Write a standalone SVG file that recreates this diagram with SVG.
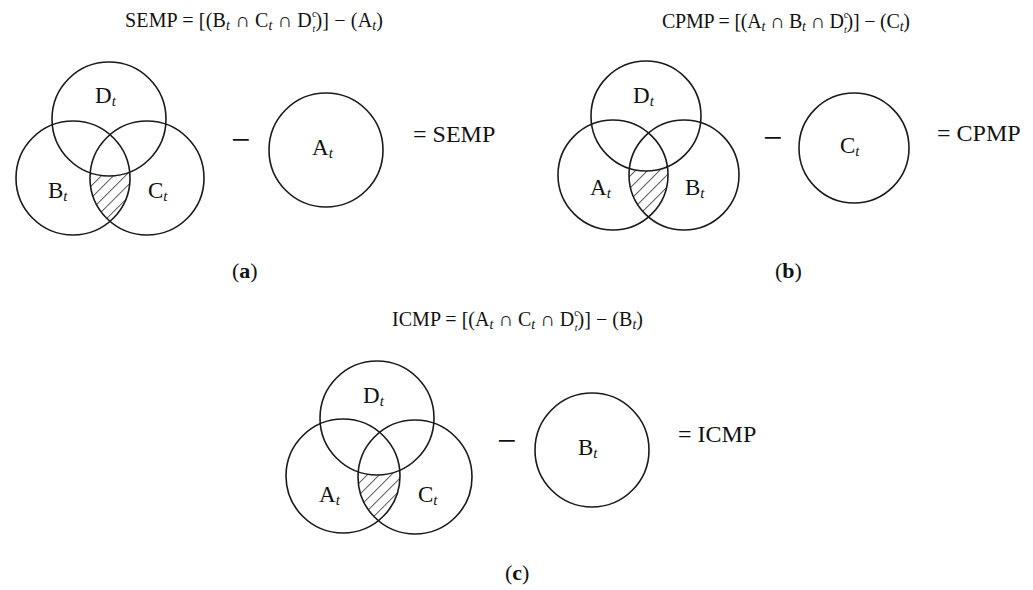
<svg xmlns="http://www.w3.org/2000/svg" width="1033" height="590" viewBox="0 0 1033 590">
<style>
.c{fill:none;stroke:#1a1a1a;stroke-width:1.6}
.lbl{font-family:"Liberation Serif",serif;font-size:23px;fill:#111}
.op{font-family:"Liberation Serif",serif;font-size:24px;fill:#111}
.mn{font-family:"Liberation Serif",serif;font-size:34px;fill:#111}
.f{font-family:"Liberation Serif",serif;font-size:20px;fill:#111}
.cap{font-family:"Liberation Serif",serif;font-size:22px;fill:#111}
.s{font-style:italic;font-size:15px}
.fs{font-style:italic;font-size:14px}
.fx{font-size:10px}
</style>
<defs>
<pattern id="hatch" patternUnits="userSpaceOnUse" width="8.5" height="8.5" patternTransform="rotate(45)">
<line x1="0" y1="0" x2="0" y2="8.5" stroke="#1a1a1a" stroke-width="1.4"/>
</pattern>
<clipPath id="aB"><circle cx="73" cy="178" r="57"/></clipPath>
<clipPath id="aC"><circle cx="147" cy="178" r="57"/></clipPath>
<mask id="aD"><rect x="0" y="0" width="1033" height="590" fill="#fff"/><circle cx="109" cy="119" r="57" fill="#000"/></mask>
<clipPath id="bA"><circle cx="613" cy="175" r="55"/></clipPath>
<clipPath id="bB"><circle cx="684" cy="175" r="55"/></clipPath>
<mask id="bD"><rect x="0" y="0" width="1033" height="590" fill="#fff"/><circle cx="646" cy="116" r="55" fill="#000"/></mask>
<clipPath id="cA"><circle cx="343" cy="476" r="57"/></clipPath>
<clipPath id="cC"><circle cx="415" cy="477" r="57"/></clipPath>
<mask id="cD"><rect x="0" y="0" width="1033" height="590" fill="#fff"/><circle cx="377" cy="418" r="57" fill="#000"/></mask>
</defs>
<rect width="1033" height="590" fill="#fff"/>

<!-- Panel (a) -->
<g id="panel-a">
<text id="formula-a" class="f" x="125" y="27" textLength="258" lengthAdjust="spacing">SEMP = [(B<tspan class="fs" dy="3">t</tspan><tspan dy="-3"> ∩ C</tspan><tspan class="fs" dy="3">t</tspan><tspan dy="-3"> ∩ D</tspan><tspan class="fx" dy="-10">c</tspan><tspan class="fx" font-style="italic" dx="-4" dy="15">t</tspan><tspan dy="-5">)] − (A</tspan><tspan class="fs" dy="3">t</tspan><tspan dy="-3">)</tspan></text>
<g clip-path="url(#aB)"><g clip-path="url(#aC)"><rect x="60" y="150" width="110" height="100" fill="url(#hatch)" mask="url(#aD)"/></g></g>
<g id="a-D"><circle class="c" cx="109" cy="119" r="57"/><text class="lbl" x="95" y="103">D<tspan class="s" dy="3">t</tspan></text></g>
<g id="a-B"><circle class="c" cx="73" cy="178" r="57"/><text class="lbl" x="48" y="198">B<tspan class="s" dy="3">t</tspan></text></g>
<g id="a-C"><circle class="c" cx="147" cy="178" r="57"/><text class="lbl" x="148" y="198">C<tspan class="s" dy="3">t</tspan></text></g>
<text class="mn" x="231" y="151">−</text>
<g id="a-A"><circle class="c" cx="326" cy="150" r="57"/><text class="lbl" x="312" y="155">A<tspan class="s" dy="3">t</tspan></text></g>
<text class="op" x="413" y="142">= SEMP</text>
<text id="cap-a" class="cap" x="232" y="278">(<tspan font-weight="bold">a</tspan>)</text>
</g>

<!-- Panel (b) -->
<g id="panel-b">
<text id="formula-b" class="f" x="662" y="28" textLength="248" lengthAdjust="spacing">CPMP = [(A<tspan class="fs" dy="3">t</tspan><tspan dy="-3"> ∩ B</tspan><tspan class="fs" dy="3">t</tspan><tspan dy="-3"> ∩ D</tspan><tspan class="fx" dy="-10">c</tspan><tspan class="fx" font-style="italic" dx="-4" dy="15">t</tspan><tspan dy="-5">)] − (C</tspan><tspan class="fs" dy="3">t</tspan><tspan dy="-3">)</tspan></text>
<g clip-path="url(#bA)"><g clip-path="url(#bB)"><rect x="600" y="140" width="110" height="100" fill="url(#hatch)" mask="url(#bD)"/></g></g>
<g id="b-D"><circle class="c" cx="646" cy="116" r="55"/><text class="lbl" font-size="22" x="633" y="103">D<tspan class="s" dy="3">t</tspan></text></g>
<g id="b-A"><circle class="c" cx="613" cy="175" r="55"/><text class="lbl" font-size="22" x="590" y="195">A<tspan class="s" dy="3">t</tspan></text></g>
<g id="b-B"><circle class="c" cx="684" cy="175" r="55"/><text class="lbl" font-size="22" x="685" y="195">B<tspan class="s" dy="3">t</tspan></text></g>
<text class="mn" x="763" y="149">−</text>
<g id="b-C"><circle class="c" cx="854" cy="148" r="55"/><text class="lbl" font-size="22" x="840" y="153">C<tspan class="s" dy="3">t</tspan></text></g>
<text class="op" font-size="22" x="937" y="141">= CPMP</text>
<text id="cap-b" class="cap" x="775" y="278">(<tspan font-weight="bold">b</tspan>)</text>
</g>

<!-- Panel (c) -->
<g id="panel-c">
<text id="formula-c" class="f" x="392" y="326" textLength="251" lengthAdjust="spacing">ICMP = [(A<tspan class="fs" dy="3">t</tspan><tspan dy="-3"> ∩ C</tspan><tspan class="fs" dy="3">t</tspan><tspan dy="-3"> ∩ D</tspan><tspan class="fx" dy="-10">c</tspan><tspan class="fx" font-style="italic" dx="-4" dy="15">t</tspan><tspan dy="-5">)] − (B</tspan><tspan class="fs" dy="3">t</tspan><tspan dy="-3">)</tspan></text>
<g clip-path="url(#cA)"><g clip-path="url(#cC)"><rect x="330" y="450" width="110" height="100" fill="url(#hatch)" mask="url(#cD)"/></g></g>
<g id="c-D"><circle class="c" cx="377" cy="418" r="57"/><text class="lbl" x="363" y="403">D<tspan class="s" dy="3">t</tspan></text></g>
<g id="c-A"><circle class="c" cx="343" cy="476" r="57"/><text class="lbl" x="319" y="502">A<tspan class="s" dy="3">t</tspan></text></g>
<g id="c-C"><circle class="c" cx="415" cy="477" r="57"/><text class="lbl" x="418" y="502">C<tspan class="s" dy="3">t</tspan></text></g>
<text class="mn" x="497" y="452">−</text>
<g id="c-B"><circle class="c" cx="592" cy="450" r="57"/><text class="lbl" x="578" y="455">B<tspan class="s" dy="3">t</tspan></text></g>
<text class="op" x="678" y="442">= ICMP</text>
<text id="cap-c" class="cap" x="505" y="580">(<tspan font-weight="bold">c</tspan>)</text>
</g>
</svg>
